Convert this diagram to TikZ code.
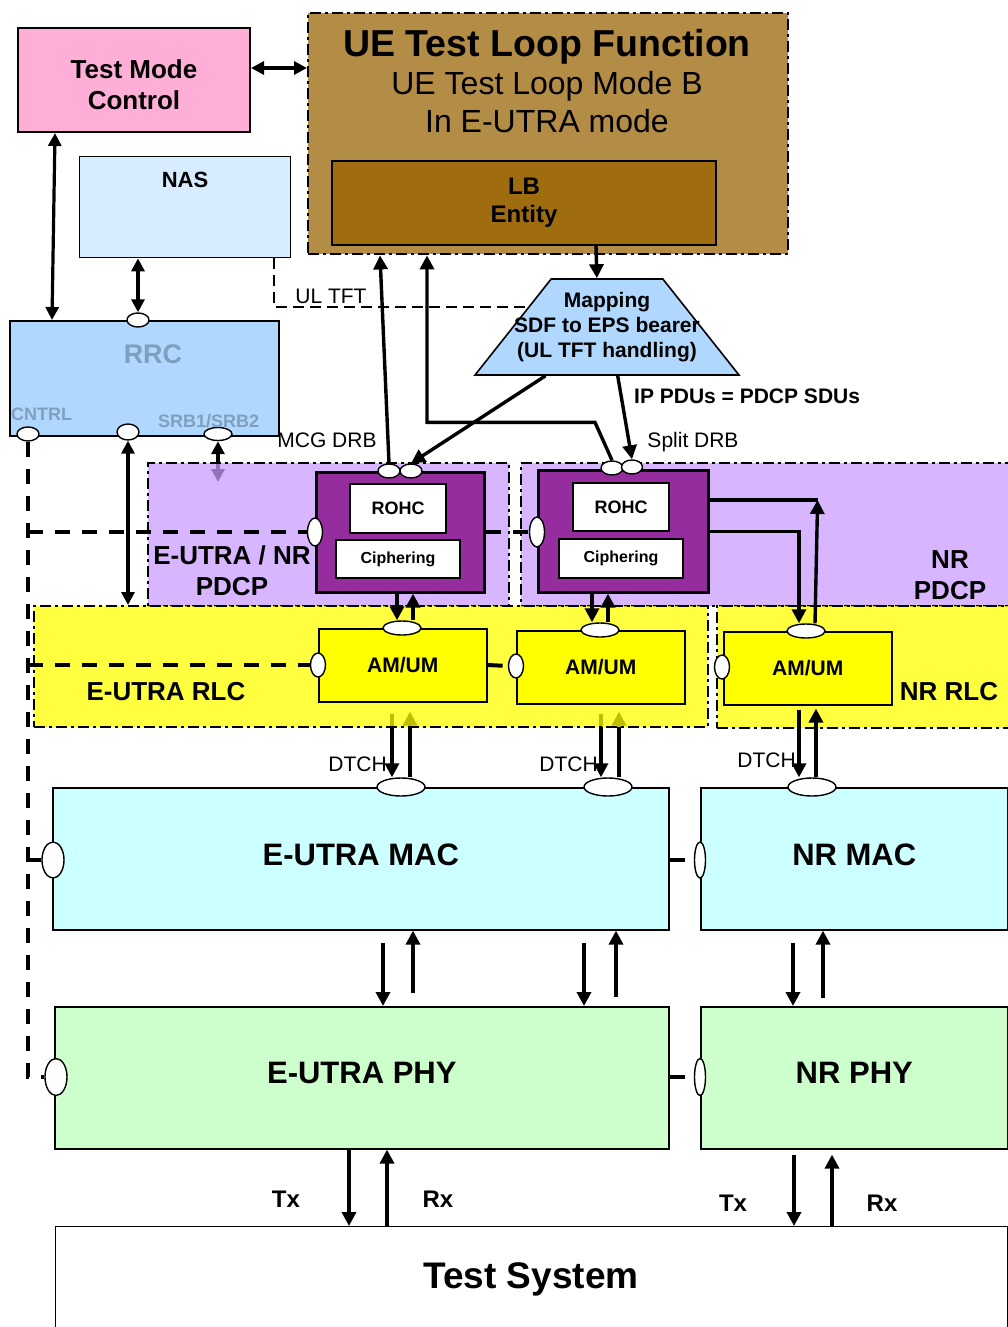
\documentclass[tikz,border=0pt]{standalone}
\usepackage{fontspec}
\setmainfont{Liberation Sans}
\usetikzlibrary{arrows.meta,calc,positioning,shapes.geometric}
\pgfdeclarelayer{under}
\pgfdeclarelayer{regions}
\pgfdeclarelayer{boxes}
\pgfdeclarelayer{lines}
\pgfsetlayers{under,regions,boxes,lines,main}
\definecolor{TMPink}{HTML}{FFAED7}
\definecolor{TLTan}{HTML}{B38C46}
\definecolor{LBBrown}{HTML}{9F6D10}
\definecolor{NASBlue}{HTML}{D7ECFF}
\definecolor{RRCBlue}{HTML}{B0D8FF}
\definecolor{RRCText}{HTML}{7F9FBF}
\definecolor{PDCPLilac}{HTML}{CB9BFF}
\definecolor{PDCPPurple}{HTML}{962D9E}
\definecolor{AMYellow}{HTML}{FFFF00}
\definecolor{MACCyan}{HTML}{CCFFFF}
\definecolor{PHYGreen}{HTML}{CCFFCC}

\begin{document}
\begin{tikzpicture}[x=1pt,y=-1pt,
    blk/.style={draw,line width=1.6pt,inner sep=0pt,anchor=north west},
    region/.style={draw,line width=2.4pt,dash pattern=on 11pt off 4pt on 3pt off 4pt,
      inner sep=0pt,anchor=north west},
    saph/.style={ellipse,draw,fill=white,line width=1.4pt,inner sep=0pt,
      minimum width=24pt,minimum height=14pt},
    sapv/.style={ellipse,draw,fill=white,line width=1.4pt,inner sep=0pt,
      minimum width=15pt,minimum height=28pt},
    arr/.style={-{Triangle[length=14pt,width=14pt]},line width=3.4pt},
    darr/.style={{Triangle[length=13pt,width=13pt]}-{Triangle[length=13pt,width=13pt]},line width=3.2pt},
    ctrl/.style={line width=4pt,dash pattern=on 15pt off 12pt},
    lbl/.style={inner sep=0pt,font=\fontsize{21}{25}\selectfont},
    lblb/.style={inner sep=0pt,font=\fontsize{21}{25}\selectfont\bfseries},
    layerlbl/.style={inner sep=0pt,align=center,font=\fontsize{26}{31}\selectfont\bfseries},
    amfont/.style={font=\fontsize{21}{25}\selectfont\bfseries},
    entfont/.style={font=\fontsize{31}{37}\selectfont\bfseries,text depth=9pt}
  ]
  \useasboundingbox (0,0) rectangle (1008,1327);

  % boxes
  \begin{pgfonlayer}{boxes}
    \node[blk,fill=TMPink,line width=2pt,minimum width=232pt,minimum height=104pt] (tmc) at (17,27) {};
    \node[region,fill=TLTan,minimum width=480pt,minimum height=241pt] (tlf) at (307,12) {};
    \node[blk,fill=LBBrown,line width=2pt,minimum width=384pt,minimum height=84pt,align=center,
      font=\fontsize{24}{28}\selectfont\bfseries] (lb) at (331,160) {LB\\Entity};
    \node[blk,fill=NASBlue,line width=1.4pt,minimum width=211pt,minimum height=101pt] (nas) at (79,156) {};
    \node[blk,fill=RRCBlue,line width=2.2pt,minimum width=269pt,minimum height=115pt] (rrc) at (9,320) {};
    \node[trapezium,draw,fill=RRCBlue,line width=1.6pt,trapezium angle=55.7,
      trapezium stretches=true,minimum width=264pt,minimum height=96pt,inner sep=1pt] (map) at (607,327) {};

    \node[blk,fill=PDCPPurple,line width=2.6pt,minimum width=168pt,minimum height=120pt] (mcgpdcp) at (315,471) {};
    \node[blk,fill=white,line width=2pt,minimum width=96pt,minimum height=49pt,
      font=\fontsize{18}{22}\selectfont\bfseries] (rohca) at (349,483) {ROHC};
    \node[blk,fill=white,line width=2pt,minimum width=124pt,minimum height=38pt,
      font=\fontsize{16}{19}\selectfont\bfseries] (ciphera) at (335,539) {Ciphering};
    \node[blk,fill=PDCPPurple,line width=2.6pt,minimum width=170pt,minimum height=122pt] (splitpdcp) at (537,469) {};
    \node[blk,fill=white,line width=2pt,minimum width=96pt,minimum height=48pt,
      font=\fontsize{18}{22}\selectfont\bfseries] (rohcb) at (572,482) {ROHC};
    \node[blk,fill=white,line width=2pt,minimum width=124pt,minimum height=39pt,
      font=\fontsize{16}{19}\selectfont\bfseries] (cipherb) at (558,538) {Ciphering};

    \node[blk,fill=AMYellow,minimum width=168pt,minimum height=73pt,amfont] (ama) at (318,628) {AM/UM};
    \node[blk,fill=AMYellow,minimum width=168pt,minimum height=73pt,amfont] (amb) at (516,630) {AM/UM};
    \node[blk,fill=AMYellow,minimum width=168pt,minimum height=73pt,amfont] (amc) at (723,631) {AM/UM};

    \node[blk,fill=MACCyan,minimum width=616pt,minimum height=142pt,entfont] (eumac) at (52,787) {E-UTRA MAC};
    \node[blk,fill=MACCyan,minimum width=307pt,minimum height=142pt,entfont] (nrmac) at (700,787) {NR MAC};
    \node[blk,fill=PHYGreen,minimum width=614pt,minimum height=142pt,entfont] (euphy) at (54,1006) {E-UTRA PHY};
    \node[blk,fill=PHYGreen,minimum width=307pt,minimum height=142pt,entfont] (nrphy) at (700,1006) {NR PHY};
    \node[blk,fill=white,line width=1.3pt,minimum width=952pt,minimum height=130pt] (ts) at (55,1226) {};
  \end{pgfonlayer}

  % protocol layers
  \begin{pgfonlayer}{regions}
    \node[region,fill=PDCPLilac,fill opacity=.74,minimum width=361pt,minimum height=143pt] (eupdcp) at (147,462) {};
    \node[region,fill=PDCPLilac,fill opacity=.74,minimum width=495pt,minimum height=143pt] (nrpdcp) at (520,462) {};
    \node[region,fill=AMYellow,fill opacity=.75,minimum width=674pt,minimum height=121pt] (eurlc) at (33,605) {};
    \node[region,fill=AMYellow,fill opacity=.75,minimum width=299pt,minimum height=122pt] (nrrlc) at (716,605) {};
  \end{pgfonlayer}

  % service access points
  \node[saph,minimum width=22pt] (rrctop) at (138,320) {};
  \node[saph,minimum width=22pt] (cntrlsap) at (28,434) {};
  \node[saph,minimum width=22pt,minimum height=16pt] (rrcsap) at (128,432) {};
  \node[saph,minimum width=28pt,minimum height=13pt] (srbsap) at (218,434) {};
  \node[saph,minimum width=22pt] (mcgsapa) at (389,471) {};
  \node[saph,minimum width=22pt] (mcgsapb) at (411,471) {};
  \node[sapv] (mcgsapl) at (315,532) {};
  \node[saph,minimum width=22pt] (splitsapa) at (612,468) {};
  \node[saph,minimum width=21pt] (splitsapb) at (632,467) {};
  \node[sapv,minimum height=30pt] (splitsapl) at (537,532) {};
  \node[saph,minimum width=38pt] (amasap) at (402,628) {};
  \node[saph,minimum width=38pt] (ambsap) at (600,630) {};
  \node[saph,minimum width=38pt] (amcsap) at (806,631) {};
  \node[sapv,minimum height=24pt] (amasapl) at (318,665) {};
  \node[sapv,minimum height=24pt] (ambsapl) at (516,666) {};
  \node[sapv,minimum height=24pt] (amcsapl) at (722,667) {};
  \node[saph,minimum width=48pt,minimum height=18pt] (eumacsapa) at (401,787) {};
  \node[saph,minimum width=48pt,minimum height=18pt] (eumacsapb) at (608,787) {};
  \node[saph,minimum width=48pt,minimum height=18pt] (nrmacsap) at (812,787) {};
  \node[sapv,minimum width=22pt,minimum height=36pt] (eumacsapl) at (53,860) {};
  \node[sapv,minimum width=11pt,minimum height=36pt] (nrmacsapl) at (700,860) {};
  \node[sapv,minimum width=22pt,minimum height=37pt] (euphysapl) at (56,1077) {};
  \node[sapv,minimum width=11pt,minimum height=37pt] (nrphysapl) at (700,1077) {};
  \coordinate (srbend) at (218,482);
  \coordinate (nrup) at ($(splitpdcp.north east)+(108,31)$);

  % texts
  \node[inner sep=0pt,align=center,font=\fontsize{26}{31}\selectfont\bfseries] (tmctxt) at ($(tmc.center)+(0,5)$) {Test Mode\\Control};
  \node[inner sep=0pt,anchor=base,font=\fontsize{37.5}{42}\selectfont\bfseries] (tlftitle) at (547,57) {UE Test Loop Function};
  \node[inner sep=0pt,anchor=base,font=\fontsize{32}{37}\selectfont] (tlfmode) at (547,95) {UE Test Loop Mode B};
  \node[inner sep=0pt,anchor=base,font=\fontsize{32}{37}\selectfont] (tlfrat) at (547,132) {In E-UTRA mode};
  \node[inner sep=0pt,anchor=base,font=\fontsize{22}{26}\selectfont\bfseries] (nastxt) at (185,187) {NAS};
  \node[inner sep=0pt,anchor=base,text=RRCText,font=\fontsize{27}{32}\selectfont\bfseries] (rrctxt) at (153,363) {RRC};
  \node[inner sep=0pt,anchor=base west,text=RRCText,font=\fontsize{18}{22}\selectfont\bfseries] (cntrltxt) at (11,420) {CNTRL};
  \node[inner sep=0pt,anchor=base west,text=RRCText,font=\fontsize{18}{22}\selectfont\bfseries] (srbtxt) at (158,427) {SRB1/SRB2};
  \node[lblb,align=center] (maptxt) at (607,327) {Mapping\\SDF to EPS bearer\\(UL TFT handling)};
  \node[lbl,anchor=base] (ultfttxt) at (331,303) {UL TFT};
  \node[lblb,anchor=base west] (iptxt) at (634,403) {IP PDUs = PDCP SDUs};
  \node[lbl,anchor=base] (mcgtxt) at (327,447) {MCG DRB};
  \node[lbl,anchor=base] (splittxt) at (693,447) {Split DRB};
  \node[layerlbl] (eupdcptxt) at (232,571) {E-UTRA / NR\\PDCP};
  \node[layerlbl] (nrpdcptxt) at (950,575) {NR\\PDCP};
  \node[layerlbl,anchor=base] (eurlctxt) at (166,700) {E-UTRA RLC};
  \node[layerlbl,anchor=base] (nrrlctxt) at (949,700) {NR RLC};
  \node[lbl,anchor=base east] (dtcha) at ($(eumacsapa.north)+(-14,-6)$) {DTCH};
  \node[lbl,anchor=base east] (dtchb) at ($(eumacsapb.north)+(-10,-6)$) {DTCH};
  \node[lbl,anchor=base east] (dtchc) at ($(nrmacsap.north)+(-16,-10)$) {DTCH};
  \node[inner sep=0pt,anchor=base,font=\fontsize{24}{28}\selectfont\bfseries] (txa) at (286,1207) {Tx};
  \node[inner sep=0pt,anchor=base,font=\fontsize{24}{28}\selectfont\bfseries] (rxa) at (438,1207) {Rx};
  \node[inner sep=0pt,anchor=base,font=\fontsize{24}{28}\selectfont\bfseries] (txb) at (733,1211) {Tx};
  \node[inner sep=0pt,anchor=base,font=\fontsize{24}{28}\selectfont\bfseries] (rxb) at (882,1211) {Rx};
  \node[inner sep=0pt,anchor=base,font=\fontsize{37}{44}\selectfont\bfseries] (tstxt) at (531,1288) {Test System};

  % connectors under the layer fills
  \begin{pgfonlayer}{under}
    \draw[darr] (srbsap.south) -- (srbend);
    \draw[arr] ($(ama.south -| eumacsapa.north)+(-9,11)$) -- ($(eumacsapa.north)+(-9,0)$);
    \draw[arr] ($(eumacsapa.north)+(9,0)$) -- ($(ama.south -| eumacsapa.north)+(9,9)$);
    \draw[arr] ($(amb.south -| eumacsapb.north)+(-7,9)$) -- ($(eumacsapb.north)+(-7,0)$);
    \draw[arr] ($(eumacsapb.north)+(11,0)$) -- ($(amb.south -| eumacsapb.north)+(11,7)$);
  \end{pgfonlayer}

  \begin{pgfonlayer}{lines}
    \draw[ctrl] (cntrlsap.south) |- (euphysapl.west);
    \draw[ctrl] (cntrlsap.south |- mcgsapl) -- (mcgsapl.west);
    \draw[ctrl] (cntrlsap.south |- amasapl) -- (amasapl.west);
    \draw[ctrl] (cntrlsap.south |- eumacsapl) -- (eumacsapl.west);
    \draw[ctrl] (mcgpdcp.east |- mcgsapl) -- (splitsapl.west);
    \draw[ctrl] (ama.east |- amasapl) -- (ambsapl.west);
    \draw[ctrl] (eumac.east |- eumacsapl) -- (nrmacsapl.west);
    \draw[ctrl] (euphy.east |- euphysapl) -- (nrphysapl.west);
    \draw[line width=2pt,dash pattern=on 11pt off 6pt] ($(nas.south east)+(-17,0)$)
      |- ($(map.top left corner)!0.3!(map.bottom left corner)$);

    \draw[darr] ($(tmc.east)+(0,-12)$) -- ($(tmc.east -| tlf.west)+(0,-12)$);
    \draw[darr] ($(tmc.south west)+(38,0)$) -- ($(rrc.north west)+(43,0)$);
    \draw[darr] (nas.south -| rrctop) -- (rrctop.north);
    \draw[darr] (rrcsap.south) -- (rrcsap.south |- eurlc.north);

    \draw[arr] ($(lb.south)+(72,0)$) -- ($(map.top left corner)!0.41!(map.top right corner)$);
    \draw[arr] (mcgsapa.north) -- ($(tlf.south west)+(73,0)$);
    \draw[arr] (splitsapa.north) -- ++(-17,-38) -| ($(tlf.south west)+(120,0)$);
    \draw[arr] ($(map.bottom left corner)!0.27!(map.bottom right corner)$) -- (mcgsapb.north);
    \draw[arr] ($(map.bottom left corner)!0.54!(map.bottom right corner)$) -- (splitsapb.north);

    \draw[arr] ($(mcgpdcp.south -| amasap.north)+(-5,0)$) -- ($(amasap.north)+(-5,0)$);
    \draw[arr] ($(amasap.north)+(11,0)$) -- ($(mcgpdcp.south -| amasap.north)+(11,0)$);
    \draw[arr] ($(splitpdcp.south -| ambsap.north)+(-8,0)$) -- ($(ambsap.north)+(-8,0)$);
    \draw[arr] ($(ambsap.north)+(8,0)$) -- ($(splitpdcp.south -| ambsap.north)+(8,0)$);
    \draw[arr] (splitpdcp.east) -| ($(amcsap.north)+(-7,0)$);
    \draw[arr] ($(amcsap.north)+(9,0)$) -- (nrup);
    \draw[line width=3.4pt] (splitpdcp.east |- nrup) -- (nrup);

    \draw[arr] ($(amc.south -| nrmacsap.north)+(-13,4)$) -- ($(nrmacsap.north)+(-13,0)$);
    \draw[arr] ($(nrmacsap.north)+(4,0)$) -- ($(amc.south -| nrmacsap.north)+(4,3)$);

    \draw[arr] ($(eumac.south west)+(331,12)$) -- ($(euphy.north west)+(329,0)$);
    \draw[arr] ($(euphy.north west)+(359,-13)$) -- ($(eumac.south west)+(361,0)$);
    \draw[arr] ($(eumac.south west)+(532,12)$) -- ($(euphy.north west)+(530,0)$);
    \draw[arr] ($(euphy.north west)+(562,-9)$) -- ($(eumac.south west)+(564,0)$);
    \draw[arr] ($(nrmac.south west)+(93,12)$) -- ($(nrphy.north west)+(93,0)$);
    \draw[arr] ($(nrphy.north west)+(123,-8)$) -- ($(nrmac.south west)+(123,0)$);

    \draw[arr] ($(euphy.south west)+(295,0)$) -- ($(ts.north west)+(294,0)$);
    \draw[arr] ($(ts.north west)+(332,0)$) -- ($(euphy.south west)+(333,0)$);
    \draw[arr] ($(nrphy.south west)+(94,5)$) -- ($(ts.north west)+(739,0)$);
    \draw[arr] ($(ts.north west)+(777,0)$) -- ($(nrphy.south west)+(132,5)$);
  \end{pgfonlayer}
\end{tikzpicture}
\end{document}
